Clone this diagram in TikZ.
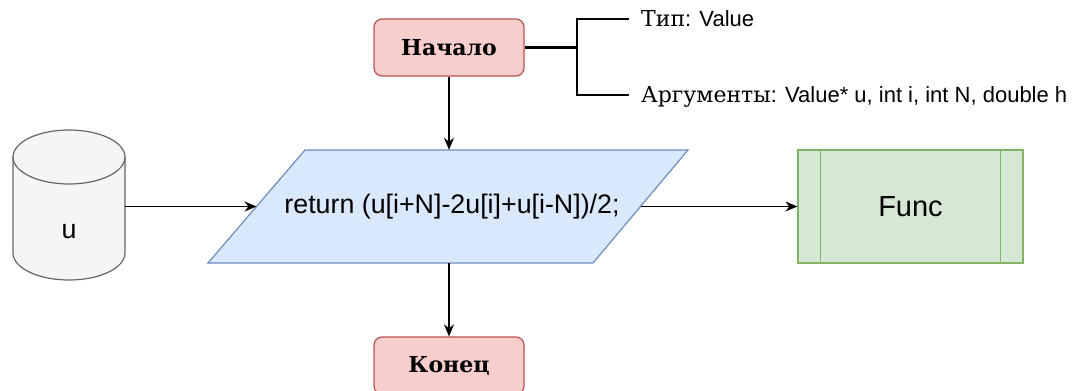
\documentclass[tikz,border=0pt]{standalone}
\usepackage{fontspec}
\setmainfont{Liberation Sans}
\newfontfamily\slabfont{DejaVu Serif}
\usetikzlibrary{arrows.meta}

\definecolor{termfill}{HTML}{F8CECC}
\definecolor{termline}{HTML}{B85450}
\definecolor{iofill}{HTML}{DAE8FC}
\definecolor{ioline}{HTML}{6C8EBF}
\definecolor{procfill}{HTML}{D5E8D4}
\definecolor{procline}{HTML}{82B366}
\definecolor{dbfill}{HTML}{F5F5F5}
\definecolor{dbline}{HTML}{666666}

\tikzset{
  terminal/.style={draw=termline, fill=termfill, line width=1.2pt,
    rounded corners=8pt, minimum width=150pt, minimum height=57pt,
    inner sep=0pt, font=\slabfont\bfseries\fontsize{22}{26}\selectfont},
  iolabel/.style={minimum width=384pt, minimum height=113pt, inner sep=0pt,
    font=\fontsize{26.8}{30}\selectfont},
  ioshape/.style={draw=ioline, fill=iofill, line width=1.2pt},
  procbox/.style={draw=procline, fill=procfill, line width=1.2pt,
    minimum width=225pt, minimum height=113pt, inner sep=0pt,
    font=\fontsize{29}{33}\selectfont},
  flow/.style={draw=black, line width=1.3pt, -{Stealth[length=12pt,width=10pt]}},
  brace/.style={draw=black, line width=2.6pt},
  note/.style={anchor=west, inner sep=0pt, font=\fontsize{22}{26}\selectfont}
}

\begin{document}
\begin{tikzpicture}[x=1pt, y=-1pt]
  \useasboundingbox (0,0) rectangle (1077,391);

  % start / end terminals
  \node[terminal] (start) at (449,47.5) {Начало};
  \node[terminal] (stop) at (449,365.5) {Конец};

  % output statement: a slanted parallelogram
  \coordinate (retNW) at (305,150);
  \coordinate (retNE) at (688,150);
  \coordinate (retSE) at (593,263);
  \coordinate (retSW) at (208,263);
  \draw[ioshape] (retNW) -- (retNE) -- (retSE) -- (retSW) -- cycle;
  \coordinate (retIn) at (256.5,206.5);
  \coordinate (retOut) at (640.5,206.5);
  \node[iolabel] (ret) at (449,206.5) {\hspace*{6pt}return (u[i+N]-2u[i]+u[i-N])/2;};

  % called function
  \node[procbox] (func) at (910.5,206.5) {Func};
  \draw[procline, line width=1.2pt]
    ([xshift=23pt]func.north west) -- ([xshift=23pt]func.south west)
    ([xshift=-23pt]func.north east) -- ([xshift=-23pt]func.south east);

  % data store "u" drawn as a cylinder
  \node[minimum width=112pt, minimum height=150pt, inner sep=0pt] (data) at (69,205) {};
  \draw[draw=dbline, fill=dbfill, line width=1.2pt]
    (13,157) -- (13,253)
    arc[start angle=180, end angle=360, x radius=56pt, y radius=27pt]
    -- (125,157)
    arc[start angle=0, end angle=180, x radius=56pt, y radius=27pt] -- cycle;
  \draw[draw=dbline, line width=1.2pt]
    (13,157) arc[start angle=180, end angle=360, x radius=56pt, y radius=27pt];
  \node[font=\fontsize{26.8}{30}\selectfont] (ulabel) at (69,232) {u};

  % connectors
  \draw[flow] (start) -- (ret.north);
  \draw[flow] (ret.south) -- (stop);
  \draw[flow] (data.east |- retIn) -- (retIn);
  \draw[flow] (retOut) -- (func.west);

  % annotation bracket
  \coordinate (bmid) at (577,47.5);
  \coordinate (btop) at (577,19);
  \coordinate (bbot) at (577,95);
  \coordinate (ttop) at (629,19);
  \coordinate (tbot) at (629,95);
  \draw[brace] (start.east) -- (bmid);
  \draw[brace] (ttop) -- (btop) -- (bbot) -- (tbot);
  \node[note] (ntype) at (641,19) {{\slabfont Тип}: Value};
  \node[note] (nargs) at (641,97) {{\slabfont Аргументы}: Value* u, int i, int N, double h};
\end{tikzpicture}
\end{document}
